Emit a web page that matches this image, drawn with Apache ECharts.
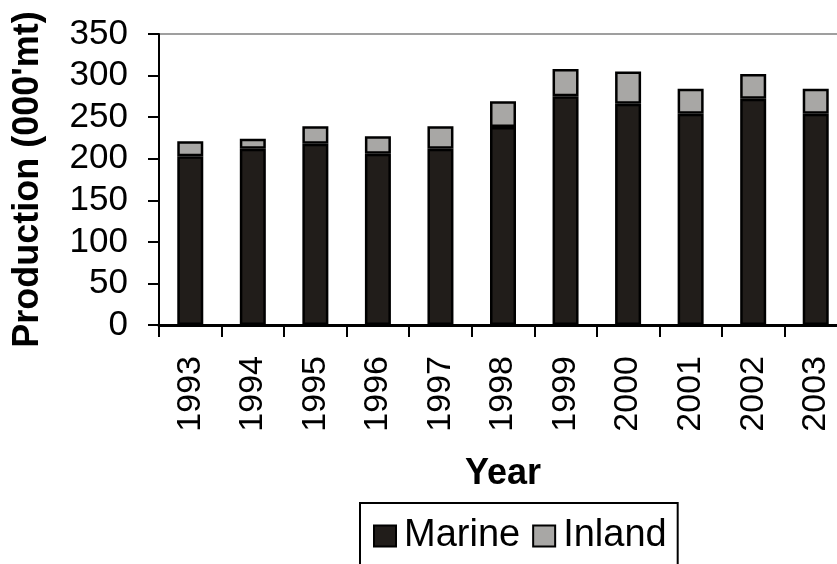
<!DOCTYPE html>
<html><head><meta charset="utf-8">
<script src="https://cdn.jsdelivr.net/npm/echarts@6/dist/echarts.min.js"></script>
<style>html,body{margin:0;padding:0;background:#fff}#c{width:837px;height:564px}</style>
</head><body><div id="c"></div>
<script>
const years = ['1993','1994','1995','1996','1997','1998','1999','2000','2001','2002','2003'];
const marine = [203, 212, 218, 206, 212, 238, 275, 266, 254, 272, 254];
const inland = [18, 12, 21, 21, 27, 31, 33, 39, 30, 30, 30];
const yTicks = {min: 0, max: 350, interval: 50};

const font = '"Liberation Sans", Arial, sans-serif';
const chart = echarts.init(document.getElementById('c'));
chart.setOption({
  animation: false,
  textStyle: {fontFamily: font, color: '#000'},
  grid: {left: 159, top: 34, width: 688, height: 291, show: true, borderColor: '#808080', borderWidth: 1.5,
         backgroundColor: 'transparent', outerBoundsMode: 'none', containLabel: false},
  legend: {
    left: 360, top: 503, orient: 'horizontal',
    borderColor: '#000', borderWidth: 2, borderRadius: 0,
    padding: [14, 11, 40, 13],
    itemWidth: 22, itemHeight: 21, itemGap: 12,
    icon: 'rect',
    textStyle: {fontSize: 38, color: '#000', fontFamily: font, padding: [0, 0, 0, 3]},
    data: ['Marine', 'Inland']
  },
  xAxis: {
    type: 'category', data: years, boundaryGap: true,
    name: 'Year', nameLocation: 'middle', nameGap: 131,
    nameTextStyle: {fontSize: 36, fontWeight: 'bold', color: '#000', fontFamily: font},
    axisLine: {lineStyle: {color: '#000', width: 3}},
    axisTick: {show: true, length: 12, lineStyle: {color: '#000', width: 2}},
    axisLabel: {rotate: 90, fontSize: 34, color: '#000', margin: 31, fontFamily: font}
  },
  yAxis: {
    type: 'value', min: yTicks.min, max: yTicks.max, interval: yTicks.interval,
    name: "Production (000'mt)", nameLocation: 'middle', nameGap: 113,
    nameTextStyle: {fontSize: 36, fontWeight: 'bold', color: '#000', fontFamily: font},
    axisLine: {show: true, lineStyle: {color: '#000', width: 2}},
    axisTick: {show: true, length: 11, lineStyle: {color: '#000', width: 2}},
    axisLabel: {fontSize: 35, color: '#000', margin: 31, fontFamily: font},
    splitLine: {show: false}
  },
  series: [
    {name: 'Marine', type: 'bar', stack: 'p', data: marine, barWidth: 26,
     itemStyle: {color: '#211d1a', borderColor: '#000', borderWidth: 2.5}},
    {name: 'Inland', type: 'bar', stack: 'p', data: inland, barWidth: 26,
     itemStyle: {color: '#a8a7a5', borderColor: '#000', borderWidth: 2.5}}
  ]
});
</script></body></html>
